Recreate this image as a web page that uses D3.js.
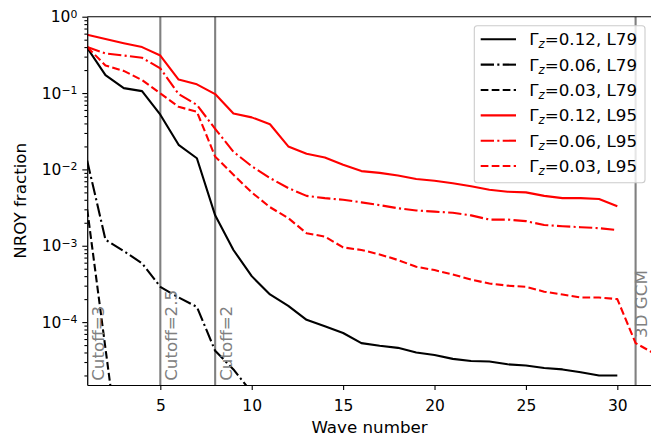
<!DOCTYPE html>
<html>
<head>
<meta charset="utf-8">
<script src="https://cdn.jsdelivr.net/npm/d3@7"></script>
<style>
  body { margin: 0; background: #fff; }
  text { font-family: "DejaVu Sans", sans-serif; }
</style>
</head>
<body>
<div class="chart"></div>
<script>
// chart values
var waveNumber = [1, 2, 3, 4, 5, 6, 7, 8, 9, 10, 11, 12, 13, 14, 15, 16,
                  17, 18, 19, 20, 21, 22, 23, 24, 25, 26, 27, 28, 29, 30, 31, 32];

var l79_012 = [0.39, 0.172, 0.116, 0.106, 0.052, 0.021, 0.014, 0.0025, 0.00088, 0.0004,
               0.00023, 0.000163, 0.000107, 8.8e-5, 7.2e-5, 5.3e-5, 4.9e-5, 4.6e-5, 4.0e-5, 3.7e-5,
               3.3e-5, 3.1e-5, 3.05e-5, 2.8e-5, 2.7e-5, 2.5e-5, 2.4e-5, 2.2e-5, 2.0e-5, 2.0e-5];
var l79_006 = [0.013, 0.0012, 0.00085, 0.00059, 0.00029, 0.00021, 0.000158, 4.2e-5, 2.4e-5, 1.2e-5];
var l79_003 = [0.003, 4.5e-5, 7e-7];

var l95_012 = [0.58, 0.51, 0.45, 0.40, 0.31, 0.15, 0.13, 0.097, 0.054, 0.048,
               0.039, 0.020, 0.016, 0.0143, 0.0115, 0.0095, 0.0090, 0.0083, 0.0075, 0.0071,
               0.0066, 0.0060, 0.0054, 0.0051, 0.0050, 0.0045, 0.0042, 0.0042, 0.0041, 0.0033];
var l95_006 = [0.40, 0.33, 0.31, 0.29, 0.21, 0.097, 0.070, 0.034, 0.017, 0.011,
               0.0077, 0.0057, 0.0045, 0.0042, 0.0040, 0.0037, 0.0034, 0.0031, 0.0029, 0.0028,
               0.0027, 0.0025, 0.0022, 0.0022, 0.0021, 0.00187, 0.0018, 0.00175, 0.0017, 0.0016];
var l95_003 = [0.40, 0.23, 0.195, 0.148, 0.099, 0.066, 0.057, 0.0147, 0.0085, 0.0050,
               0.0032, 0.0023, 0.00146, 0.00132, 0.00095, 0.00088, 0.00077, 0.00065, 0.00053, 0.00048,
               0.00042, 0.00036, 0.00032, 0.0003, 0.00029, 0.00025, 0.00023, 0.00021, 0.00021, 0.0002,
               5.3e-5, 3.9e-5];

var gammas = ["0.12", "0.06", "0.03"];
var models = ["L79", "L95"];

var cutoffWaves = [1, 5, 8, 31];
var cutoffLabels = ["Cutoff=3", "Cutoff=2.5", "Cutoff=2", "3D GCM"];
var cutoffTextAt = [1.7e-5, 1.7e-5, 1.7e-5, 6.2e-5];

var xTicks = [5, 10, 15, 20, 25, 30];
var yMajor = [1e-4, 1e-3, 1e-2, 1e-1, 1];

var svgWidth = 651;
var svgHeight = 437;
var margin = {top: 16.7, left: 87.2, bottom: 52};
var plotBottom = svgHeight - margin.bottom;

var svg = d3.select(".chart").append("svg")
  .attr("width", svgWidth)
  .attr("height", svgHeight);

var x = d3.scaleLinear().domain([1, 32]).range([margin.left, margin.left + 31 * 18.28]);
var y = d3.scaleLog().domain([1.5e-5, 1]).range([plotBottom, margin.top]);

svg.append("clipPath").attr("id", "plotclip")
  .append("rect")
  .attr("x", margin.left).attr("y", margin.top)
  .attr("width", x(32) - margin.left).attr("height", plotBottom - margin.top);

var plot = svg.append("g").attr("clip-path", "url(#plotclip)");

// grey reference lines + labels
plot.selectAll("line.cut")
  .data(cutoffWaves)
  .enter().append("line")
  .attr("class", "cut")
  .attr("x1", d => x(d)).attr("x2", d => x(d))
  .attr("y1", margin.top).attr("y2", plotBottom)
  .attr("stroke", "#808080")
  .attr("stroke-width", 2.1);

// last label sits at the right edge, pull it in so it isn't cut
svg.selectAll("text.cut")
  .data(cutoffWaves)
  .enter().append("text")
  .attr("class", "cut")
  .attr("transform", (d, i) => "translate(" + Math.min(x(d) + 17, svgWidth - 4.5) + "," + y(cutoffTextAt[i]) + ") rotate(-90)")
  .attr("fill", "#808080")
  .attr("font-size", "16.7px")
  .text((d, i) => cutoffLabels[i]);

var dashes = {solid: null, dashdot: "13.3,3.3,2.1,3.3", dashed: "7.7,3.3"};
var styles = ["solid", "dashdot", "dashed"];
var colors = {L79: "#000000", L95: "#ff0000"};

var series = [];
var allValues = [[l79_012, l79_006, l79_003], [l95_012, l95_006, l95_003]];
models.forEach(function(m, mi) {
  gammas.forEach(function(g, gi) {
    series.push({model: m, gamma: g, values: allValues[mi][gi],
                 color: colors[m], dash: dashes[styles[gi]]});
  });
});

var line = d3.line()
  .x(d => x(d[0]))
  .y(d => y(d[1]));

plot.selectAll("path.series")
  .data(series)
  .enter().append("path")
  .attr("class", "series")
  .attr("d", s => line(s.values.map((v, i) => [waveNumber[i], v])))
  .attr("fill", "none")
  .attr("stroke", s => s.color)
  .attr("stroke-width", 2.1)
  .attr("stroke-dasharray", s => s.dash)
  .attr("stroke-linejoin", "round");

// axes
var xAxis = d3.axisBottom(x).tickValues(xTicks).tickSize(4.9).tickSizeOuter(0).tickPadding(4.9);
var gx = svg.append("g")
  .attr("transform", "translate(0," + plotBottom + ")")
  .call(xAxis);
gx.selectAll(".tick text").attr("font-size", "15.5px").attr("y", 15).attr("dy", "0.71em")
  .attr("font-family", "DejaVu Sans").attr("fill", "#000");

var minorTicks = y.ticks().filter(function(d) {
  var e = Math.log10(d);
  return Math.abs(e - Math.round(e)) > 1e-6;
});
var yMinor = d3.axisLeft(y).tickValues(minorTicks).tickSize(2.8).tickFormat("").tickSizeOuter(0);
svg.append("g").attr("transform", "translate(" + margin.left + ",0)").call(yMinor)
  .select(".domain").remove();

var yAxis = d3.axisLeft(y).tickValues(yMajor).tickSize(4.9).tickSizeOuter(0).tickPadding(4.9);
var gy = svg.append("g")
  .attr("transform", "translate(" + margin.left + ",0)")
  .call(yAxis);
gy.selectAll(".tick text").each(function(d) {
  var e = Math.round(Math.log10(d));
  var t = d3.select(this).text("")
    .attr("font-size", "15.5px").attr("font-family", "DejaVu Sans").attr("fill", "#000");
  t.append("tspan").text("10");
  t.append("tspan").attr("dy", "-0.42em").attr("font-size", "70%")
    .text(e < 0 ? "\u2212" + (-e) : String(e));
});

svg.selectAll(".domain, .tick line").attr("stroke-width", 1.1);

// top spine
svg.append("line")
  .attr("x1", margin.left).attr("x2", svgWidth)
  .attr("y1", margin.top).attr("y2", margin.top)
  .attr("stroke", "#000").attr("stroke-width", 1.1);

svg.append("text")
  .attr("x", (margin.left + x(32)) / 2 - 1)
  .attr("y", 433)
  .attr("text-anchor", "middle")
  .attr("font-size", "16.7px")
  .text("Wave number");

svg.append("text")
  .attr("transform", "translate(25.5," + ((margin.top + plotBottom) / 2) + ") rotate(-90)")
  .attr("text-anchor", "middle")
  .attr("font-size", "16.7px")
  .text("NROY fraction");

// legend
var legend = svg.append("g");
legend.append("rect")
  .attr("x", 474.3).attr("y", 25.7)
  .attr("width", 170.7).attr("height", 157)
  .attr("rx", 3).attr("ry", 3)
  .attr("fill", "#fff").attr("fill-opacity", 0.8)
  .attr("stroke", "#cccccc").attr("stroke-width", 1.1);

var rows = legend.selectAll("g.row")
  .data(series)
  .enter().append("g")
  .attr("class", "row")
  .attr("transform", (s, i) => "translate(0," + (39.3 + i * 25.35) + ")");

rows.append("line")
  .attr("x1", 480.7).attr("x2", 516)
  .attr("stroke", s => s.color)
  .attr("stroke-width", 2.1)
  .attr("stroke-dasharray", s => s.dash);

var lt = rows.append("text")
  .attr("x", 529.3).attr("y", 6)
  .attr("font-size", "16.7px");
lt.append("tspan").text("\u0393");
lt.append("tspan").attr("font-size", "70%").attr("font-style", "italic").attr("dy", "0.25em").text("z");
lt.append("tspan").attr("dy", "-0.175em").text(s => "=" + s.gamma + ", " + s.model);
</script>
</body>
</html>
